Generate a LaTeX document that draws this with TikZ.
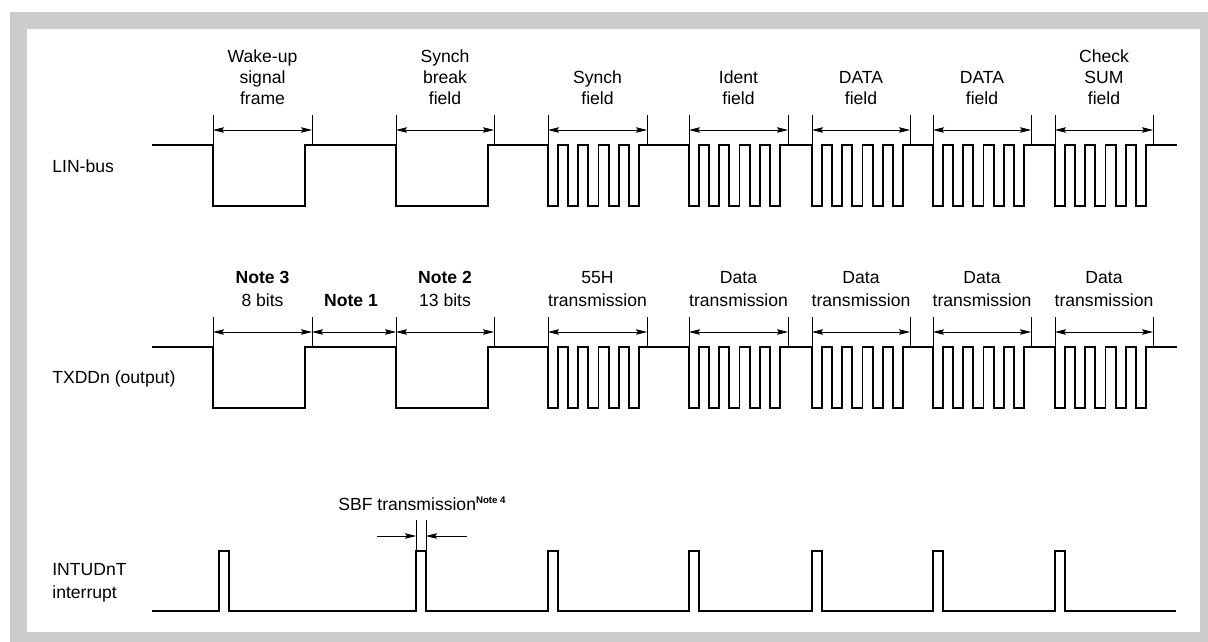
\documentclass[tikz,border=0pt]{standalone}
\usepackage{fontspec}
\setmainfont{Liberation Sans}
\usetikzlibrary{arrows.meta}

\begin{document}
\begin{tikzpicture}[
    x=0.2mm, y=-0.2mm,
    sig/.style={draw, line width=1.1pt},
    guide/.style={draw, line width=0.45pt},
    dimarr/.style={draw, line width=0.45pt, {Stealth[length=2.2mm,width=1.1mm,inset=0.35mm]}-{Stealth[length=2.2mm,width=1.1mm,inset=0.35mm]}},
    onearr/.style={draw, line width=0.45pt, -{Stealth[length=2.2mm,width=1.1mm,inset=0.35mm]}},
    lbl/.style={anchor=south, align=center, inner sep=0pt, font=\fontsize{10}{12}\selectfont},
    lbltx/.style={lbl, font=\fontsize{10}{13}\selectfont},
    signame/.style={anchor=west, align=left, inner sep=0pt, font=\fontsize{10}{13}\selectfont}
]
    % Frame
    \useasboundingbox (0,0) rectangle (1208,642);
    \fill[gray!40] (10,12) rectangle (1208,642);
    \fill[white] (27,29) rectangle (1200,632);

    % Signal names
    \node[signame] (lin) at (52,166) {LIN-bus};
    \node[signame] (txd) at (52,379) {TXDDn (output)};
    \node[signame] (intr) at (52,583) {INTUDnT\\interrupt};

    % LIN-bus and TXDDn waveforms
    \foreach \dy in {0,202}
        \draw[sig] (152,145+\dy) -- (213,145+\dy) -- ++(0,61) -- (305,206+\dy) -- ++(0,-61)
            -- (396,145+\dy) -- ++(0,61) -- (488,206+\dy) -- ++(0,-61)
            \foreach \s in {548,689,812,933,1055} {
                -- (\s,145+\dy)
                \foreach \k in {1,...,4} { -- ++(0,61) -- ++(10.1,0) -- ++(0,-61) -- ++(10.1,0) }
                -- ++(0,61) -- ++(10.1,0) -- ++(0,-61) }
            -- (1177,145+\dy);

    % INTUDnT interrupt pulses
    \draw[sig] (152,611) \foreach \s in {219,416,548,689,812,933,1055} {
        -- (\s,611) -- ++(0,-60) -- ++(10,0) -- ++(0,60) } -- (1176,611);

    % Field widths, LIN-bus
    \foreach \a/\b [count=\i] in {213/312,396/494,548/647,689/788,812/910,933/1031,1055/1153} {
        \draw[guide] (\a,115) -- (\a,145) (\b,115) -- (\b,145);
        \coordinate (la\i) at (\a,130);
        \coordinate (lb\i) at (\b,130);
        \draw[dimarr] (la\i) -- (lb\i);
    }
    % Field widths, TXDDn
    \foreach \a/\b [count=\i] in {213/312,312/396,396/494,548/647,689/788,812/910,933/1031,1055/1153} {
        \draw[guide] (\a,317) -- (\a,347) (\b,317) -- (\b,347);
        \coordinate (ta\i) at (\a,332);
        \coordinate (tb\i) at (\b,332);
        \draw[dimarr] (ta\i) -- (tb\i);
    }

    % Field labels, LIN-bus
    \node[lbl] (wake) at (262.5,105) {Wake-up\\signal\\frame};
    \node[lbl] (sbrk) at (445,105) {Synch\\break\\field};
    \node[lbl] (sfld) at (597.5,105) {Synch\\field};
    \node[lbl] (ident) at (738.5,105) {Ident\\field};
    \node[lbl] (data1) at (861,105) {DATA\\field};
    \node[lbl] (data2) at (982,105) {DATA\\field};
    \node[lbl] (csum) at (1104,105) {Check\\SUM\\field};

    % Field labels, TXDDn
    \node[lbltx] (note3) at (262.5,307) {\textbf{Note 3}\\8 bits};
    \node[lbltx] (note1) at (351,307) {\textbf{Note 1}};
    \node[lbltx] (note2) at (445,307) {\textbf{Note 2}\\13 bits};
    \node[lbltx] (tx55) at (597.5,307) {55H\\transmission};
    \node[lbltx] (txd1) at (738.5,307) {Data\\transmission};
    \node[lbltx] (txd2) at (861,307) {Data\\transmission};
    \node[lbltx] (txd3) at (982,307) {Data\\transmission};
    \node[lbltx] (txd4) at (1104,307) {Data\\transmission};

    % SBF transmission width
    \node[anchor=base west, inner sep=0pt, font=\fontsize{10}{12}\selectfont] (sbf) at (338,510)
        {SBF transmission\textsuperscript{\fontsize{5.5}{6}\selectfont\bfseries Note 4}};
    \draw[guide] (416,520) -- (416,551) (426,520) -- (426,551);
    \coordinate (sl) at (377,536);
    \coordinate (sr) at (467,536);
    \draw[onearr] (sl) -- (416,536);
    \draw[onearr] (sr) -- (426,536);
\end{tikzpicture}
\end{document}
